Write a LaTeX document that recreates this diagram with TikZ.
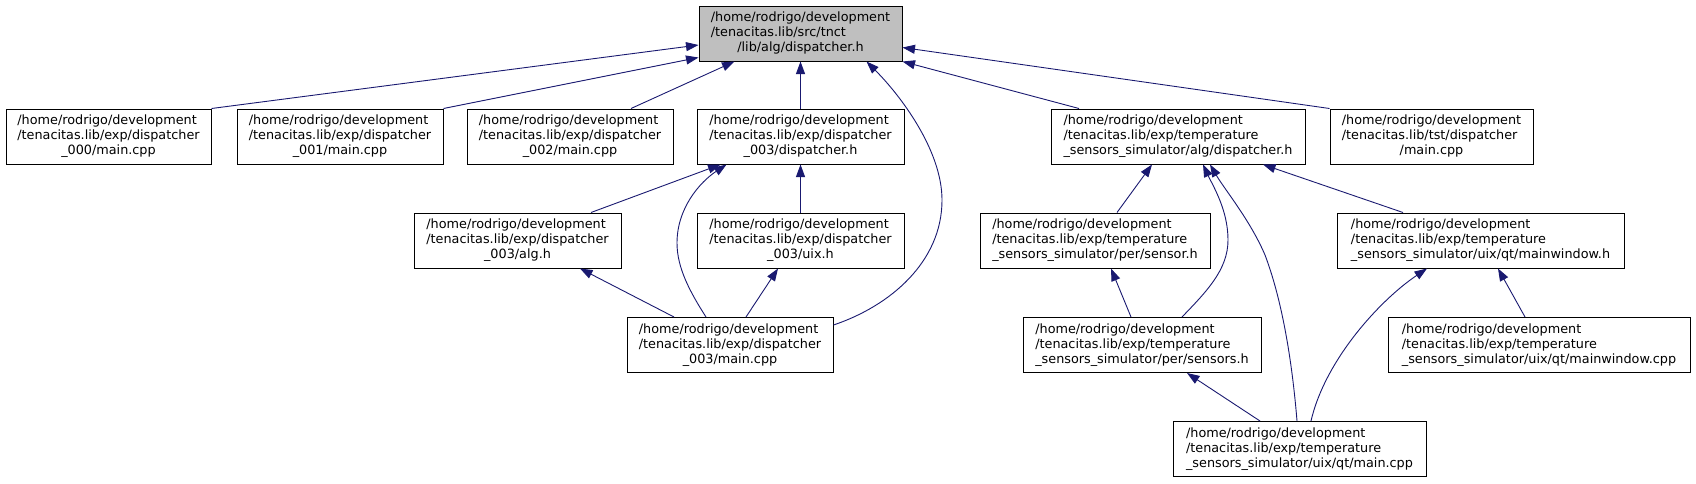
\documentclass[tikz,border=0pt]{standalone}
\usepackage{fontspec}
\setmainfont{DejaVu Sans}
\usetikzlibrary{arrows.meta}
\definecolor{edgeblue}{RGB}{25,25,112}
\definecolor{rootgray}{RGB}{191,191,191}
\newcommand{\flines}[3]{\begin{tabular}{@{}l@{}}#1\\#2\\\multicolumn{1}{@{}c@{}}{#3}\end{tabular}}

\begin{document}
\begin{tikzpicture}[x=1pt, y=-1pt, >={Triangle[length=12.5pt,width=9pt]}]
        \tikzset{
            block/.style={draw, line width=1pt, fill=white, minimum height=55pt, inner sep=0pt, font=\fontsize{12.8}{15}\selectfont},
            arrow/.style={<-, edgeblue, line width=0.9pt}
        }
        \useasboundingbox (0,0) rectangle (1696,483);

        \node[block, fill=rootgray, minimum width=203pt] (root) at (800.5, 33.5) {\flines{/home/rodrigo/development}{/tenacitas.lib/src/tnct}{/lib/alg/dispatcher.h}};

        \node[block, minimum width=205pt] (disp000) at (108.5, 136.5) {\flines{/home/rodrigo/development}{/tenacitas.lib/exp/dispatcher}{\_000/main.cpp}};
        \node[block, minimum width=206pt] (disp001) at (340, 136.5) {\flines{/home/rodrigo/development}{/tenacitas.lib/exp/dispatcher}{\_001/main.cpp}};
        \node[block, minimum width=206pt] (disp002) at (570, 136.5) {\flines{/home/rodrigo/development}{/tenacitas.lib/exp/dispatcher}{\_002/main.cpp}};
        \node[block, minimum width=207pt] (disph) at (800.5, 136.5) {\flines{/home/rodrigo/development}{/tenacitas.lib/exp/dispatcher}{\_003/dispatcher.h}};
        \node[block, minimum width=254pt] (tsalg) at (1178, 136.5) {\flines{/home/rodrigo/development}{/tenacitas.lib/exp/temperature}{\_sensors\_simulator/alg/dispatcher.h}};
        \node[block, minimum width=203pt] (tstmain) at (1431.5, 136.5) {\flines{/home/rodrigo/development}{/tenacitas.lib/tst/dispatcher}{/main.cpp}};

        \node[block, minimum width=207pt] (algh) at (517.5, 240.5) {\flines{/home/rodrigo/development}{/tenacitas.lib/exp/dispatcher}{\_003/alg.h}};
        \node[block, minimum width=207pt] (uixh) at (800.5, 240.5) {\flines{/home/rodrigo/development}{/tenacitas.lib/exp/dispatcher}{\_003/uix.h}};
        \node[block, minimum width=230pt] (sensorh) at (1095, 240.5) {\flines{/home/rodrigo/development}{/tenacitas.lib/exp/temperature}{\_sensors\_simulator/per/sensor.h}};
        \node[block, minimum width=287pt] (mwh) at (1480.5, 240.5) {\flines{/home/rodrigo/development}{/tenacitas.lib/exp/temperature}{\_sensors\_simulator/uix/qt/mainwindow.h}};

        \node[block, minimum width=206pt] (main003) at (730, 345) {\flines{/home/rodrigo/development}{/tenacitas.lib/exp/dispatcher}{\_003/main.cpp}};
        \node[block, minimum width=238pt] (sensorsh) at (1142, 345) {\flines{/home/rodrigo/development}{/tenacitas.lib/exp/temperature}{\_sensors\_simulator/per/sensors.h}};
        \node[block, minimum width=302pt] (mwcpp) at (1539, 345) {\flines{/home/rodrigo/development}{/tenacitas.lib/exp/temperature}{\_sensors\_simulator/uix/qt/mainwindow.cpp}};

        \node[block, minimum width=253pt] (qtmain) at (1299.5, 449) {\flines{/home/rodrigo/development}{/tenacitas.lib/exp/temperature}{\_sensors\_simulator/uix/qt/main.cpp}};

        \draw[arrow] ([yshift=-11.5pt]root.west) -- (disp000.north east);
        \draw[arrow] ([yshift=4pt]root.south west) -- (disp001.north east);
        \draw[arrow] ([xshift=-66pt]root.south) -- ([xshift=61pt]disp002.north);
        \draw[arrow] (root.south) -- (disph.north);
        \draw[arrow] ([xshift=66pt]root.south) .. controls (900,95) and (942,150) .. (942,200) .. controls (942,262) and (890,306) .. ([yshift=20pt]main003.east);
        \draw[arrow] (root.south east) -- ([xshift=-99pt]tsalg.north);
        \draw[arrow] ([yshift=-14pt]root.east) -- (tstmain.north west);

        \draw[arrow] ([xshift=-80pt]disph.south) -- ([xshift=73.5pt]algh.north);
        \draw[arrow] ([xshift=-74pt]disph.south) .. controls (700,182) and (677,208) .. (677,243) .. controls (677,268) and (690,292) .. ([xshift=-24pt]main003.north);
        \draw[arrow] (disph.south) -- (uixh.north);
        \draw[arrow] ([xshift=62.5pt]algh.south) -- ([xshift=-56pt]main003.north);
        \draw[arrow] ([xshift=-22.5pt]uixh.south) -- ([xshift=16pt]main003.north);

        \draw[arrow] ([xshift=-26pt]tsalg.south) -- ([xshift=22pt]sensorh.north);
        \draw[arrow] ([xshift=25pt]tsalg.south) .. controls (1213,186) and (1228,210) .. (1228,240) .. controls (1228,270) and (1206,292) .. ([xshift=40pt]sensorsh.north);
        \draw[arrow] ([xshift=32pt]tsalg.south) .. controls (1225,190) and (1250,220) .. (1265,255) .. controls (1282,300) and (1292,360) .. ([xshift=-2.5pt]qtmain.north);
        \draw[arrow] ([xshift=85pt]tsalg.south) -- ([xshift=-77.5pt]mwh.north);
        \draw[arrow] ([xshift=16pt]sensorh.south) -- ([xshift=-11pt]sensorsh.north);
        \draw[arrow] ([xshift=45pt]sensorsh.south) -- ([xshift=-39.5pt]qtmain.north);
        \draw[arrow] ([xshift=-53.5pt]mwh.south) .. controls (1380,300) and (1325,360) .. ([xshift=11.5pt]qtmain.north);
        \draw[arrow] ([xshift=17.5pt]mwh.south) -- ([xshift=-14pt]mwcpp.north);
    \end{tikzpicture}
\end{document}
